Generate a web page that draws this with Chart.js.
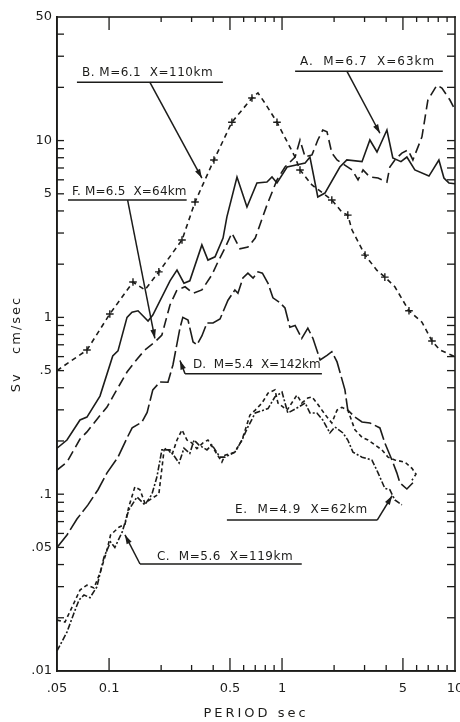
<!DOCTYPE html>
<html><head><meta charset="utf-8">
<script src="https://cdn.jsdelivr.net/npm/chart.js@4.4.1/dist/chart.umd.min.js"></script>
<style>html,body{margin:0;padding:0;background:#fff;}canvas{display:block;}</style>
</head><body>
<canvas id="c" width="460" height="722"></canvas>
<script>
// ---- data (period in sec, Sv in cm/sec) ----
const periodA = [0.05,0.0571,0.0679,0.0745,0.0886,0.105,0.1126,0.127,0.1357,0.147,0.168,0.179,0.225,0.247,0.271,0.293,0.344,0.373,0.41,0.456,0.48,0.549,0.627,0.716,0.818,0.875,0.935,1.07,1.36,1.45,1.61,1.77,2.16,2.37,2.9,3.22,3.54,4.04,4.37,4.87,5.27,5.86,7.07,8.07,8.63,9.22,10];
const svA = [0.182,0.2025,0.263,0.273,0.359,0.605,0.646,1.0,1.07,1.09,0.954,1.03,1.61,1.85,1.56,1.61,2.57,2.11,2.2,2.81,3.7,6.22,4.21,5.76,5.83,6.22,5.76,7.09,7.47,8.07,4.8,5.05,7.09,7.77,7.6,10.08,8.62,11.48,7.97,7.6,8.07,6.82,6.3,7.77,6.14,5.76,5.7];

const periodB = [0.05,0.0745,0.101,0.1375,0.161,0.194,0.264,0.314,0.404,0.513,0.67,0.726,0.796,0.935,1.19,1.27,1.49,1.72,1.94,2.22,2.40,2.54,3.02,3.53,3.93,4.49,5.42,6.44,7.36,8.18,10];
const svB = [0.50,0.654,1.045,1.585,1.43,1.81,2.74,4.49,7.77,12.7,17.4,18.6,16.3,12.7,8.07,6.82,5.61,5.05,4.61,3.94,3.79,3.12,2.25,1.85,1.69,1.49,1.09,0.94,0.735,0.654,0.60];
const markerPeriodsB = [0.0745,0.101,0.1375,0.194,0.264,0.314,0.404,0.513,0.67,0.935,1.27,1.94,2.40,3.02,3.93,5.42,7.36];

const periodC = [0.05,0.0556,0.0611,0.0679,0.0745,0.0818,0.0886,0.0973,0.102,0.114,0.1236,0.13,0.141,0.151,0.161,0.182,0.194,0.208,0.216,0.231,0.247,0.264,0.282,0.301,0.322,0.349,0.373,0.399,0.449,0.468,0.534,0.587,0.652,0.70,0.766,0.83,0.91,0.947,1.07,1.22,1.30,1.41,1.49,1.59,1.70,1.82,1.94,2.08,2.22,2.40,2.64,2.9,3.14,3.78,4.1,4.49,5.13,5.64,5.95,5.64];
const svC = [0.0194,0.0189,0.023,0.0287,0.0306,0.0295,0.0358,0.0483,0.0588,0.065,0.0676,0.0847,0.11,0.106,0.089,0.0964,0.1,0.178,0.183,0.167,0.2025,0.231,0.2025,0.195,0.181,0.195,0.2025,0.183,0.152,0.166,0.173,0.2025,0.28,0.299,0.328,0.373,0.389,0.328,0.299,0.364,0.328,0.35,0.355,0.328,0.299,0.273,0.253,0.299,0.31,0.299,0.231,0.21,0.2025,0.178,0.162,0.156,0.152,0.14,0.13,0.12];

const periodD = [0.05,0.0571,0.0652,0.0755,0.0863,0.0973,0.1126,0.127,0.136,0.155,0.166,0.179,0.197,0.219,0.234,0.257,0.267,0.286,0.306,0.322,0.344,0.368,0.399,0.438,0.487,0.534,0.556,0.594,0.635,0.68,0.727,0.77,0.83,0.886,0.973,1.04,1.11,1.19,1.30,1.41,1.51,1.66,1.82,1.94,2.08,2.31,2.40,2.64,2.9,3.22,3.68,3.93,4.32,4.61,4.8,5.27,5.71];
const svD = [0.05,0.0588,0.0724,0.087,0.106,0.132,0.162,0.208,0.237,0.256,0.29,0.389,0.431,0.43,0.538,0.871,1.0,0.966,0.726,0.70,0.785,0.93,0.93,0.98,1.25,1.43,1.37,1.67,1.78,1.67,1.81,1.78,1.56,1.29,1.21,1.13,0.88,0.9,0.76,0.87,0.76,0.574,0.61,0.64,0.56,0.389,0.299,0.273,0.256,0.253,0.237,0.195,0.156,0.132,0.116,0.107,0.116];

const periodE = [0.05,0.0571,0.0627,0.067,0.0716,0.0776,0.085,0.0935,0.102,0.108,0.119,0.13,0.145,0.161,0.177,0.189,0.202,0.225,0.254,0.271,0.293,0.31,0.33,0.368,0.393,0.438,0.468,0.534,0.587,0.635,0.70,0.83,0.91,1.0,1.08,1.24,1.36,1.45,1.59,1.72,1.89,2.02,2.25,2.4,2.57,2.9,3.31,3.59,3.93,4.2,4.49,4.93];
const svE = [0.013,0.0166,0.0213,0.0252,0.0269,0.026,0.0299,0.0441,0.0537,0.05,0.061,0.0814,0.0964,0.087,0.1,0.125,0.178,0.178,0.15,0.182,0.17,0.2025,0.19,0.178,0.19,0.162,0.162,0.173,0.2025,0.24,0.288,0.305,0.355,0.378,0.288,0.31,0.328,0.288,0.288,0.263,0.222,0.24,0.222,0.2025,0.173,0.162,0.156,0.132,0.108,0.106,0.0927,0.087];

const periodF = [0.05,0.0571,0.0679,0.0745,0.0863,0.0973,0.108,0.127,0.145,0.161,0.184,0.202,0.225,0.247,0.275,0.306,0.344,0.393,0.426,0.468,0.513,0.571,0.635,0.70,0.818,0.935,1.04,1.19,1.27,1.36,1.49,1.61,1.72,1.82,1.94,2.08,2.54,2.75,2.94,3.22,3.59,4.04,4.2,4.49,4.93,5.35,5.71,6.44,6.97,7.86,8.4,9.35,10];
const svF = [0.137,0.152,0.205,0.225,0.27,0.311,0.373,0.491,0.58,0.654,0.726,0.795,1.175,1.43,1.49,1.37,1.43,1.74,2.06,2.47,3.0,2.44,2.5,2.81,4.32,5.99,7.09,8.07,10.08,8.07,8.3,10.08,11.48,11.2,8.5,7.77,6.82,5.99,6.82,6.22,6.14,5.83,7.09,7.77,8.5,8.85,7.77,10.5,16.96,20.6,19.8,16.96,14.9];

// ---- axes ----
const xMin = 0.05, xMax = 10, yMin = 0.01, yMax = 50;
const xTickValues = [0.05,0.1,0.5,1,5,10];
const xTickLabels = ['.05','0.1','0.5','1','5','10'];
const yTickValues = [0.01,0.05,0.1,0.5,1,5,10,50];
const yTickLabels = ['.01','.05','.1','.5','1','5','10','50'];
const xMajorTicks = [0.1,0.5,1,5];
const xMinorTicks = [0.2,0.3,0.4,0.6,0.7,0.8,0.9,2,3,4,6,7,8,9];
const yMinorTicks = [0.02,0.03,0.04,0.05,0.06,0.07,0.08,0.09,0.1,0.2,0.3,0.4,0.5,0.6,0.7,0.8,0.9,1,2,3,4,5,6,7,8,9,10,20,30,40];

// ---- annotations (data coordinates) ----
const notes = [
  {text:'A.  M=6.7  X=63km', t1:1.27, t2:7.67, sv:27.8, u1:1.19, u2:8.5, usv:24.7, from:[2.37,24.7], to:[3.68,11.0]},
  {text:'B. M=6.1  X=110km', t1:0.0697, t2:0.399, sv:24.1, u1:0.0652, u2:0.455, usv:21.4, from:[0.172,21.4], to:[0.344,6.14]},
  {text:'F. M=6.5  X=64km', t1:0.061, t2:0.281, sv:5.1, u1:0.0579, u2:0.281, usv:4.61, from:[0.128,4.61], to:[0.184,0.76]},
  {text:'D.  M=5.4  X=142km', t1:0.306, t2:1.65, sv:0.538, u1:0.275, u2:1.70, usv:0.48, from:[0.275,0.48], to:[0.257,0.57]},
  {text:'E.  M=4.9  X=62km', t1:0.534, t2:3.14, sv:0.0814, u1:0.48, u2:3.55, usv:0.0714, from:[3.55,0.0714], to:[4.33,0.098]},
  {text:'C.  M=5.6  X=119km', t1:0.189, t2:1.16, sv:0.0444, u1:0.151, u2:1.30, usv:0.0403, from:[0.151,0.0403], to:[0.1236,0.0588]}
];

const ink = '#1c1c1a';
const FONT = 'DejaVu Sans';
function pts(px, py){ return px.map((x,i)=>({x:x, y:py[i]})); }

function seg(ctx, x1, y1, x2, y2, w){
  ctx.lineWidth = w;
  ctx.beginPath();
  ctx.moveTo(x1, y1); ctx.lineTo(x2, y2);
  ctx.stroke();
}

function drawAll(chart){
  const ctx = chart.ctx, x = chart.scales.x, y = chart.scales.y;
  ctx.save();
  ctx.strokeStyle = ink; ctx.fillStyle = ink; ctx.setLineDash([]);
  notes.forEach(n=>{
    const x1 = x.getPixelForValue(n.t1), x2 = x.getPixelForValue(n.t2), ty = y.getPixelForValue(n.sv);
    ctx.font = '12px "' + FONT + '"';
    ctx.letterSpacing = '0px';
    const w = ctx.measureText(n.text).width;
    const ls = Math.max(0,(x2-x1-w)/(n.text.length));
    ctx.letterSpacing = ls.toFixed(2)+'px';
    ctx.textAlign='left'; ctx.textBaseline='middle';
    ctx.fillText(n.text, x1, ty);
    ctx.letterSpacing = '0px';
    const uy = y.getPixelForValue(n.usv);
    seg(ctx, x.getPixelForValue(n.u1), uy, x.getPixelForValue(n.u2), uy, 1.5);
    const fx = x.getPixelForValue(n.from[0]), fy = y.getPixelForValue(n.from[1]);
    const tx = x.getPixelForValue(n.to[0]), tyy = y.getPixelForValue(n.to[1]);
    seg(ctx, fx, fy, tx, tyy, 1.5);
    const ang = Math.atan2(tyy-fy, tx-fx), AL=9, AW=2.8;
    ctx.beginPath();
    ctx.moveTo(tx,tyy);
    ctx.lineTo(tx - AL*Math.cos(ang) + AW*Math.sin(ang), tyy - AL*Math.sin(ang) - AW*Math.cos(ang));
    ctx.lineTo(tx - AL*Math.cos(ang) - AW*Math.sin(ang), tyy - AL*Math.sin(ang) + AW*Math.cos(ang));
    ctx.closePath(); ctx.fill();
  });
  // frame and inward ticks, placed through the scales, painted as thin filled bars
  const L = x.getPixelForValue(0.0500001), R = x.getPixelForValue(9.99999);
  const T = y.getPixelForValue(49.9999), B = y.getPixelForValue(0.0100001);
  const fw = 1.6, tw = 1.3;
  ctx.fillRect(L - fw/2, T - fw/2, R - L + fw, fw);
  ctx.fillRect(L - fw/2, B - fw/2, R - L + fw, fw);
  ctx.fillRect(L - fw/2, T - fw/2, fw, B - T + fw);
  ctx.fillRect(R - fw/2, T - fw/2, fw, B - T + fw);
  xMinorTicks.forEach(v=>{const p=x.getPixelForValue(v); ctx.fillRect(p-tw/2, B-6, tw, 6); ctx.fillRect(p-tw/2, T, tw, 5);});
  xMajorTicks.forEach(v=>{const p=x.getPixelForValue(v); ctx.fillRect(p-tw/2, B-13, tw, 13); ctx.fillRect(p-tw/2, T, tw, 13);});
  yMinorTicks.forEach(v=>{const p=y.getPixelForValue(v); ctx.fillRect(L, p-tw/2, 7, tw); ctx.fillRect(R-8, p-tw/2, 8, tw);});
  ctx.restore();
}

const framePlugin = {
  id:'frameAndNotes',
  beforeDraw(chart){
    [['x','3px'],['y','2px']].forEach(([id,ls])=>{
      const s = chart.scales[id];
      if (s && !s._lsPatched){
        const orig = s.drawTitle;
        s.drawTitle = function(){ const c=this.ctx; c.save(); c.letterSpacing=ls; orig.call(this); c.restore(); };
        s._lsPatched = true;
      }
    });
  },
  afterDraw(chart){ drawAll(chart); }
};

const base = {showLine:true, fill:false, borderColor:ink, borderWidth:1.6, pointRadius:0, tension:0};
new Chart(document.getElementById('c'), {
  type:'scatter',
  data:{ datasets:[
    Object.assign({}, base, {label:'A. M=6.7 X=63km', data:pts(periodA, svA)}),
    Object.assign({}, base, {label:'B. M=6.1 X=110km', data:pts(periodB, svB), borderDash:[5,4],
      pointStyle:'cross', pointBorderColor:ink, pointBorderWidth:1.4,
      pointRadius: c => (c.raw && markerPeriodsB.includes(c.raw.x)) ? 3.8 : 0}),
    Object.assign({}, base, {label:'C. M=5.6 X=119km', data:pts(periodC, svC), borderDash:[4,3]}),
    Object.assign({}, base, {label:'D. M=5.4 X=142km', data:pts(periodD, svD), borderDash:[18,4]}),
    Object.assign({}, base, {label:'E. M=4.9 X=62km', data:pts(periodE, svE), borderDash:[6,2,2,2]}),
    Object.assign({}, base, {label:'F. M=6.5 X=64km', data:pts(periodF, svF), borderDash:[10,5]})
  ]},
  options:{
    responsive:false, animation:false, devicePixelRatio:1,
    layout:{padding:{left:0,right:5,top:17,bottom:0}},
    plugins:{legend:{display:false}, tooltip:{enabled:false}},
    scales:{
      x:{ type:'logarithmic', position:'bottom', min:xMin, max:xMax,
        grid:{display:true, drawOnChartArea:false, drawTicks:false}, border:{display:true, color:ink, width:1.6},
        afterBuildTicks: s => { s.ticks = xTickValues.map(v=>({value:v})); },
        afterFit: s => { s.height = 51; s.paddingLeft = 0; s.paddingRight = 0; },
        ticks:{ autoSkip:false, maxRotation:0, padding:10, color:ink, font:{family:FONT, size:13},
          callback:(v,i)=> xTickLabels[i] },
        title:{display:true, text:'PERIOD sec', color:ink, font:{family:FONT, size:13}, padding:{top:0,bottom:1}}
      },
      y:{ type:'logarithmic', position:'left', min:yMin, max:yMax,
        grid:{display:true, drawOnChartArea:false, drawTicks:false}, border:{display:true, color:ink, width:1.6},
        afterBuildTicks: s => { s.ticks = yTickValues.map(v=>({value:v})); },
        afterFit: s => { s.width = 57; },
        ticks:{ autoSkip:false, padding:5, color:ink, font:{family:FONT, size:13},
          callback:(v,i)=> yTickLabels[i] },
        title:{display:true, text:'Sv   cm/sec', color:ink, font:{family:FONT, size:13}, padding:{top:9,bottom:0}}
      }
    }
  },
  plugins:[framePlugin]
});
</script>
</body></html>
